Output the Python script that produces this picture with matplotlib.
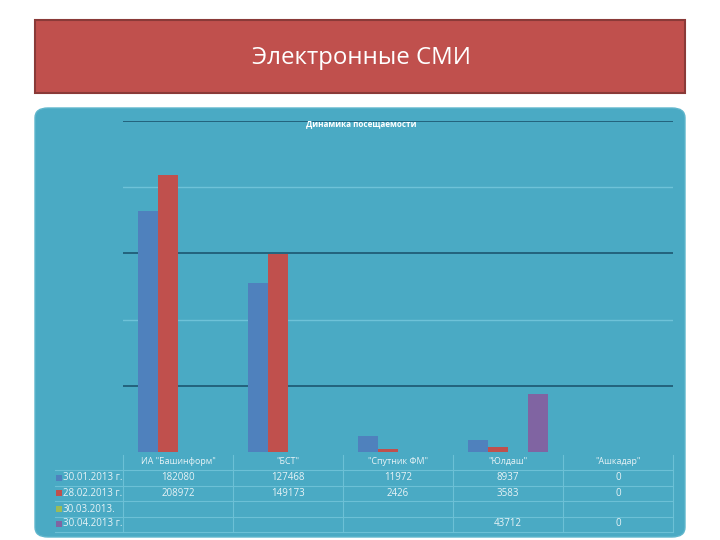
import numpy as np
import matplotlib
matplotlib.use("Agg")
import matplotlib.pyplot as plt
import matplotlib.patches as patches

plt.rcParams['font.family'] = ['Open Sans', 'DejaVu Sans']

categories = ['ИА "Башинформ"', '"БСТ"', '"Спутник ФМ"', '"Юлдаш"', '"Ашкадар"']
series_names = ['30.01.2013 г.', '28.02.2013 г.', '30.03.2013.', '30.04.2013 г.']
jan = [182080, 127468, 11972, 8937, 0]
feb = [208972, 149173, 2426, 3583, 0]
mar = [None, None, None, None, None]
apr = [None, None, None, 43712, 0]
series = [jan, feb, mar, apr]
colors = ['#4f81bd', '#c0504d', '#9bbb59', '#8064a2']

W, H = 720, 540
fig = plt.figure(figsize=(7.2, 5.4), dpi=100)
fig.patch.set_facecolor('white')

def fx(x): return x / W
def fy(y): return 1 - y / H

# title box
fig.patches.append(patches.Rectangle((fx(35), fy(93)), fx(650), 73 / H, transform=fig.transFigure,
                                     fc='#c0504d', ec='#8a3a38', lw=1.5, zorder=-2))
fig.text(fx(361), fy(58), 'Электронные СМИ', color='white', fontsize=17.3, ha='center', va='center')

# teal panel
fig.patches.append(patches.FancyBboxPatch((fx(35), fy(537)), fx(650), 429 / H,
                                          boxstyle='round,pad=0,rounding_size=0.018', transform=fig.transFigure,
                                          fc='#4aaac4', ec='#5fb6cc', lw=1, zorder=-2))

L, R, T, B = 123, 673, 121, 452
ax = fig.add_axes([fx(L), fy(B), (R - L) / W, (B - T) / H], zorder=1)
ax.set_facecolor('none')
for s in ax.spines.values():
    s.set_visible(False)
ax.set_xticks([])
ax.set_yticks([])
ax.set_xlim(-0.5, len(categories) - 0.5)
ax.set_ylim(0, 250000)

grid_levels = np.arange(50000, 250001, 50000)
for i, g in enumerate(grid_levels):
    dark = (i % 2 == 0)
    ax.axhline(g, color='#1d5670' if dark else '#6ec2d8', lw=1.2 if dark else 1.0, zorder=1)

x = np.arange(len(categories))
bw = 0.18
for k, (vals, c) in enumerate(zip(series, colors)):
    v = [0 if a is None else a for a in vals]
    ax.bar(x + (k - 1.5) * bw, v, width=bw, color=c, zorder=2)

fig.text(fx(361), fy(124), 'Динамика посещаемости', color='white', fontsize=5.9,
         fontweight='bold', ha='center', va='center', zorder=3)

# data table
col_edges = [L + 110 * i for i in range(len(categories) + 1)]
row_y = [478, 493, 509, 524]
line_c = '#6cc0d6'
txt_c = '#e8f3f6'
for i, cat in enumerate(categories):
    fig.text(fx(L + 55 + 110 * i), fy(461), cat, color=txt_c, fontsize=6.4, ha='center', va='center')
for ce in col_edges:
    fig.add_artist(plt.Line2D([fx(ce), fx(ce)], [fy(455), fy(532)], color=line_c, lw=0.8))
for yy in [470, 486, 501, 517, 532]:
    fig.add_artist(plt.Line2D([fx(55), fx(R)], [fy(yy), fy(yy)], color=line_c, lw=0.8))
for r, (name, vals, c) in enumerate(zip(series_names, series, colors)):
    yy = row_y[r]
    fig.patches.append(patches.Rectangle((fx(56), fy(yy + 3)), 6 / W, 6 / H, transform=fig.transFigure,
                                         fc=c, ec='none', zorder=2))
    fig.text(fx(63), fy(yy), name, color=txt_c, fontsize=7, ha='left', va='center')
    for i, v in enumerate(vals):
        if v is not None:
            fig.text(fx(L + 55 + 110 * i), fy(yy), str(v), color=txt_c, fontsize=7,
                     ha='center', va='center')

fig.savefig('out.png', dpi=100)
